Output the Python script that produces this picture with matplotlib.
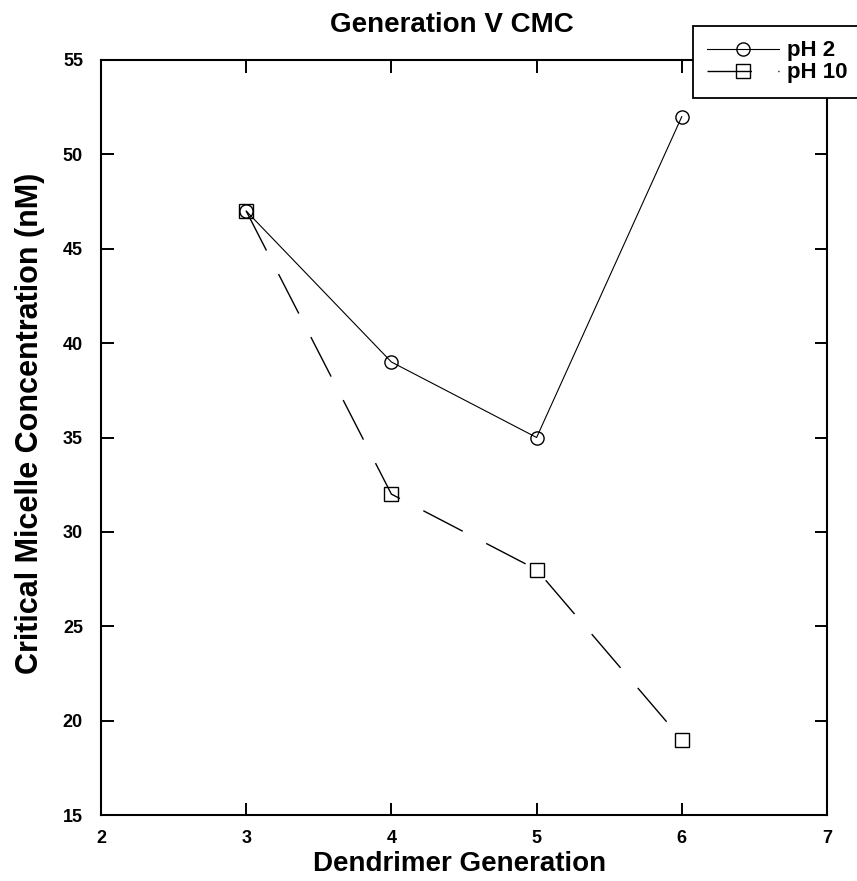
import matplotlib
matplotlib.use("Agg")
import matplotlib.pyplot as plt

plt.rcParams['font.family'] = ['Liberation Sans', 'DejaVu Sans']

# Dendrimer generation vs. critical micelle concentration
generations = [3, 4, 5, 6]
cmc_ph2 = [47, 39, 35, 52]
cmc_ph10 = [47, 32, 28, 19]
series_labels = ["pH 2", "pH 10"]

x_ticks = [2, 3, 4, 5, 6, 7]
y_ticks = [15, 20, 25, 30, 35, 40, 45, 50, 55]

fig = plt.figure(figsize=(8.57, 8.81), dpi=100)
ax = fig.add_axes([101 / 857, 1 - 815 / 881, (827 - 101) / 857, (815 - 60) / 881])

ax.plot(generations, cmc_ph2, color='black', lw=0.8, marker='o', ms=9.5,
        mfc='none', mec='black', mew=1.0, label=series_labels[0])
ax.plot(generations, cmc_ph10, color='black', lw=1.0, ls=(0, (32, 19)),
        marker='s', ms=9.5, mfc='none', mec='black', mew=1.0,
        label=series_labels[1])

ax.set_xlim(2, 7)
ax.set_ylim(15, 55)
ax.set_xticks(x_ticks)
ax.set_yticks(y_ticks)
ax.set_xticklabels([str(v) for v in x_ticks], fontsize=13, fontweight='bold')
ax.set_yticklabels([str(v) for v in y_ticks], fontsize=13, fontweight='bold')

# inward ticks on all four sides, skipping the axis ends
ax.tick_params(direction='in', length=9, width=1.4, top=True, right=True)
ax.tick_params(axis='y', pad=13)
ax.tick_params(axis='x', pad=11)
for t in ax.xaxis.get_major_ticks():
    if t.get_loc() in (2, 7):
        t.tick1line.set_visible(False)
        t.tick2line.set_visible(False)
for t in ax.yaxis.get_major_ticks():
    if t.get_loc() in (15, 55):
        t.tick1line.set_visible(False)
        t.tick2line.set_visible(False)

for s in ax.spines.values():
    s.set_linewidth(1.5)

ax.set_xlabel("Dendrimer Generation", fontsize=20, fontweight='bold')
ax.xaxis.set_label_coords(0.4945, -0.048)
ax.set_ylabel("Critical Micelle Concentration (nM)", fontsize=22,
              fontweight='bold')
ax.yaxis.set_label_coords(-0.077, 0.519)
fig.text(452 / 857, 1 - 25 / 881, "Generation V CMC", fontsize=20,
         fontweight='bold', ha='center', va='center')

# legend box runs off the right edge of the figure
leg = ax.legend(loc='upper left',
                bbox_to_anchor=(693 / 857, 1 - 98 / 881, 400 / 857, 72 / 881),
                bbox_transform=fig.transFigure, mode='expand',
                prop={'size': 16, 'weight': 'bold'}, frameon=True,
                fancybox=False, edgecolor='black', framealpha=1,
                handlelength=3.2, handletextpad=0.4, labelspacing=0.04,
                borderpad=0.65, borderaxespad=0)
leg.get_frame().set_linewidth(1.3)

fig.savefig("out.png", dpi=100)
